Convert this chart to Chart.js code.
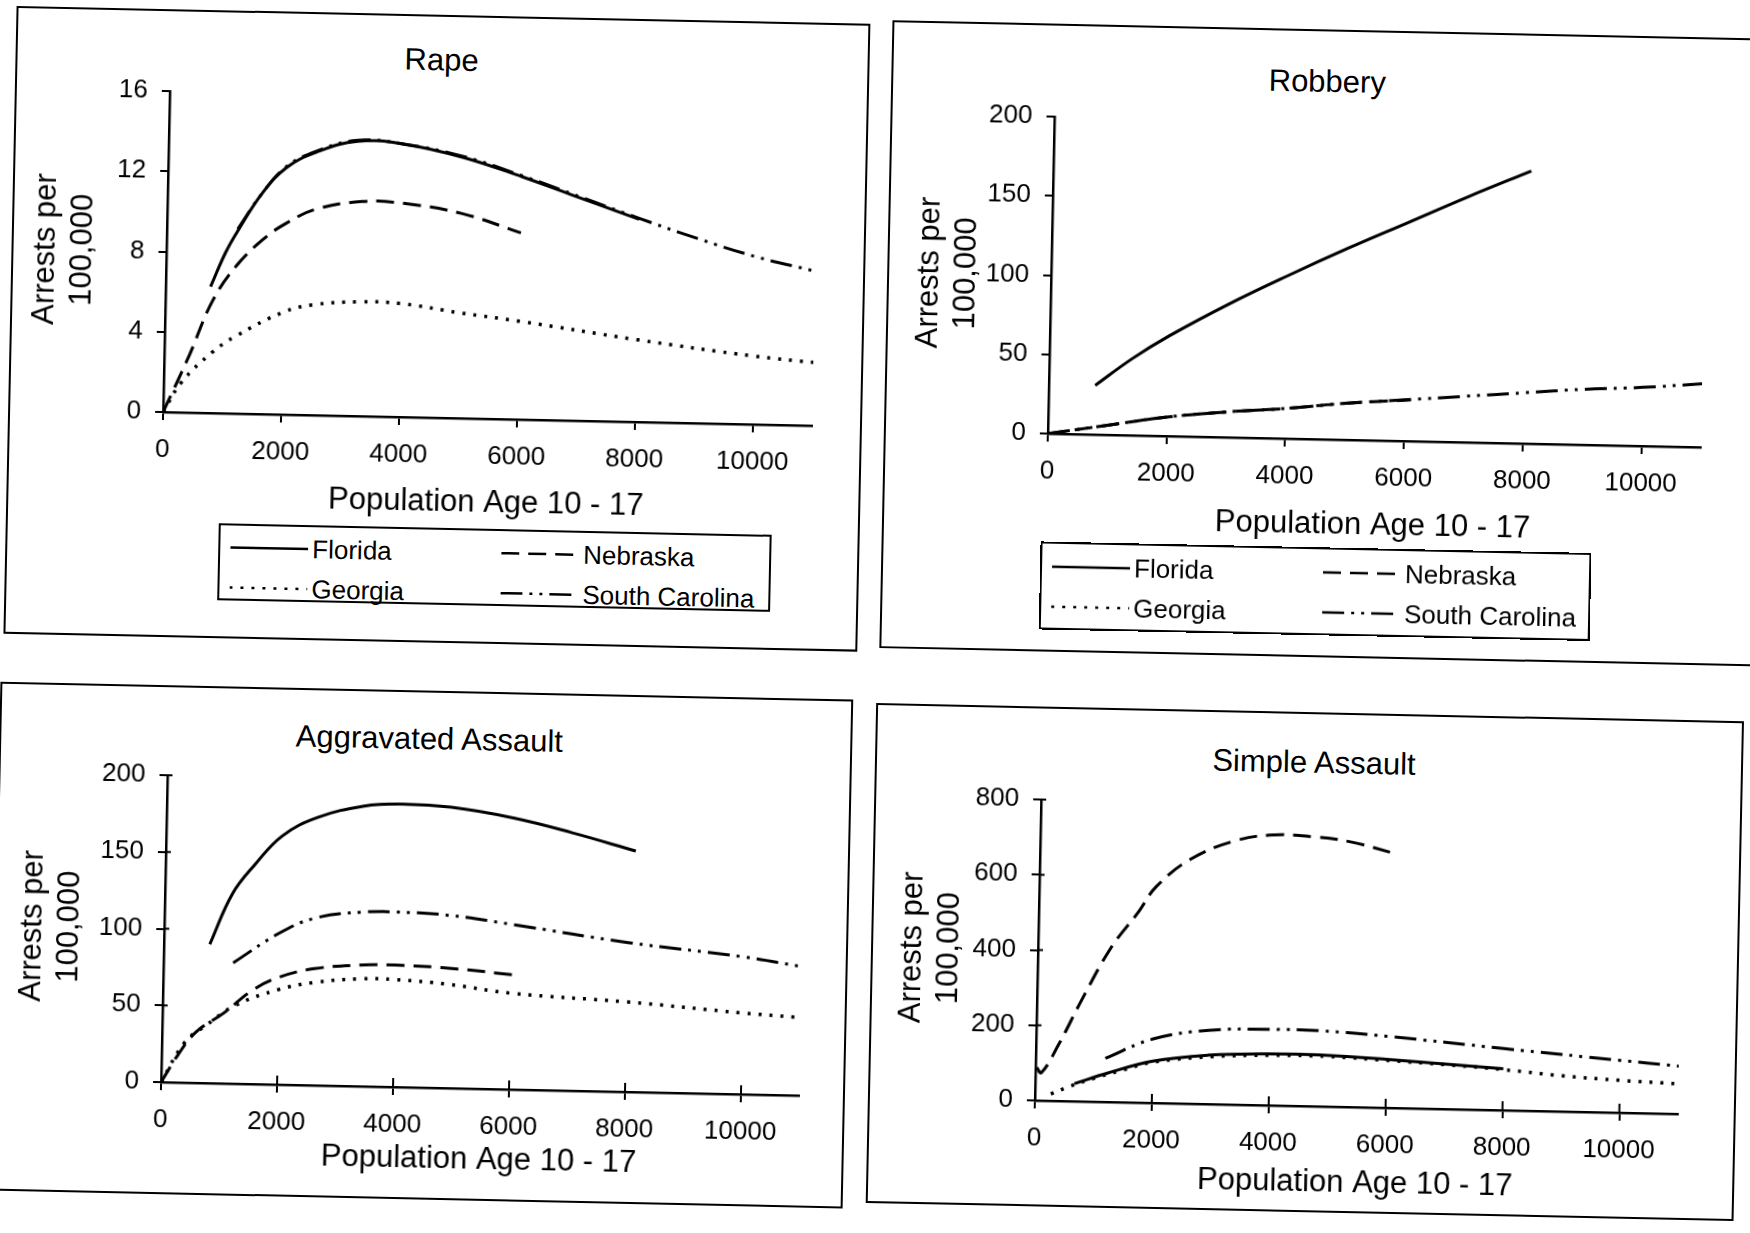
<!DOCTYPE html>
<html><head><meta charset="utf-8">
<script src="https://cdn.jsdelivr.net/npm/chart.js@4.4.1/dist/chart.umd.min.js"></script>
<style>
html,body{margin:0;padding:0;background:#fff;}
body{width:1750px;height:1233px;overflow:hidden;font-family:'Liberation Sans',Arial,sans-serif;color:#000;position:relative;}
#page{position:absolute;left:0;top:0;width:1750px;height:1233px;transform:rotate(1.2deg);transform-origin:875px 616px;}
.panel{position:absolute;border:2.5px solid #000;box-sizing:border-box;}
.ptitle{position:absolute;font-size:31px;transform:translate(-50%,-50%);white-space:nowrap;line-height:1;}
canvas{position:absolute;}
.legend{position:absolute;border:2.5px solid #000;box-sizing:border-box;background:#fff;}
.legend .item{position:absolute;font-size:26px;white-space:nowrap;display:flex;align-items:center;transform:translateY(-50%);line-height:1;}
.legend .item svg{margin-right:4px;}
</style></head><body><div id="page"></div>
<script>
// ---------- DATA ----------
const seriesNames = ['Florida', 'Nebraska', 'Georgia', 'South Carolina'];
const panelTitles = ['Rape', 'Robbery', 'Aggravated Assault', 'Simple Assault'];
const xTickValues = [0, 2000, 4000, 6000, 8000, 10000];
const xMax = 11000;
const rapeYTicks = [0, 4, 8, 12, 16];
const robberyYTicks = [0, 50, 100, 150, 200];
const aggYTicks = [0, 50, 100, 150, 200];
const simpleYTicks = [0, 200, 400, 600, 800];
const xAxisTitle = 'Population Age 10 - 17';
const yAxisTitle = ['Arrests per', '100,000'];

// Rape
const rapeFloridaX = [760, 1000, 1200, 1600, 2000, 2500, 3200, 4000, 5000, 6000, 7000, 8000];
const rapeFloridaY = [6.3, 8.0, 9.1, 11.0, 12.3, 13.1, 13.7, 13.6, 13.0, 12.1, 11.1, 10.1];
const rapeNebraskaX = [0, 150, 430, 800, 1200, 1650, 2000, 2500, 3300, 4000, 5000, 6000];
const rapeNebraskaY = [0, 1.0, 2.9, 5.6, 7.4, 8.75, 9.5, 10.25, 10.7, 10.65, 10.2, 9.3];
const rapeGeorgiaX = [0, 300, 800, 1200, 2000, 2500, 3300, 4000, 5000, 6000, 8000, 10000, 11000];
const rapeGeorgiaY = [0, 1.5, 3.0, 3.85, 5.1, 5.5, 5.7, 5.65, 5.25, 4.9, 4.1, 3.4, 3.15];
const rapeSCX = [1200, 1600, 2000, 2500, 3200, 4000, 5000, 6000, 7000, 8000, 9000, 10000, 11000];
const rapeSCY = [9.2, 11.0, 12.35, 13.15, 13.75, 13.6, 13.05, 12.15, 11.15, 10.15, 9.2, 8.35, 7.7];

// Robbery
const robFloridaX = [780, 1400, 2000, 3000, 4000, 5000, 6000, 7000, 8050];
const robFloridaY = [31, 48.5, 63, 84, 103, 121, 138, 155, 172];
const robNebraskaX = [0, 1000, 2000, 3000, 4000, 5000, 6100];
const robNebraskaY = [0, 6, 12, 16, 19, 23, 26];
const robGeorgiaX = [];
const robGeorgiaY = [];
const robSCX = [0, 1000, 2000, 3000, 4000, 5000, 6000, 7000, 8000, 9000, 10000, 11000];
const robSCY = [0, 6, 12, 16, 19, 23, 26, 29, 32, 35, 37, 40];

// Aggravated Assault
const aggFloridaX = [790, 1160, 1540, 2000, 2600, 3400, 4000, 4900, 6000, 7000, 8100];
const aggFloridaY = [90.5, 123.5, 143, 162, 174.5, 182.6, 184.4, 183, 176.7, 168, 157];
const aggNebraskaX = [0, 290, 580, 1060, 1540, 2000, 2600, 3400, 4000, 4900, 6100];
const aggNebraskaY = [0, 18.5, 33, 46, 61, 70, 76, 79, 79.4, 78.2, 74.5];
const aggGeorgiaX = [0, 390, 770, 1250, 2000, 2600, 3400, 4000, 4900, 6000, 8000, 10000, 10900];
const aggGeorgiaY = [0, 26, 38, 51, 62, 67, 70, 70, 67.7, 62.7, 58.6, 53, 51];
const aggSCX = [1200, 2000, 2600, 3400, 4000, 4900, 6000, 8000, 10000, 11000];
const aggSCY = [78.7, 99, 109, 113.5, 114, 112.6, 107.5, 97.3, 89.5, 84];

// Simple Assault
const simFloridaX = [670, 1240, 2000, 2950, 4000, 4860, 6000, 8000];
const simFloridaY = [47, 77, 111, 130, 137, 137, 129, 110];
const simNebraskaX = [20, 100, 380, 760, 1240, 1710, 2000, 2570, 3330, 4000, 4670, 5330, 6100];
const simNebraskaY = [88, 74, 148, 268, 408, 508, 575, 649, 701, 719, 716, 704, 675];
const simGeorgiaX = [270, 600, 1000, 1500, 2000, 3000, 4000, 5000, 6000, 7000, 8000, 9000, 10000, 11000];
const simGeorgiaY = [18, 40, 62, 86, 108, 126, 133, 133, 126, 118, 108, 95, 86, 80];
const simSCX = [1190, 2000, 2950, 4000, 4860, 6000, 8000, 10000, 11000];
const simSCY = [116, 170, 196, 202, 201, 190, 164, 139, 127];

// ---------- STYLE / LAYOUT ----------
const dashStyles = { 'Florida': [], 'Nebraska': [18, 9], 'Georgia': [3, 8], 'South Carolina': [22, 7, 3, 7, 3, 7] };
const lineWidths = { 'Florida': 3, 'Nebraska': 3, 'Georgia': 3.5, 'South Carolina': 3 };
const FONT = "'Liberation Sans', Arial, sans-serif";
Chart.defaults.font.family = FONT;
Chart.defaults.color = '#000';

const panels = [
  { title: panelTitles[0], titlePos: [430, 69], box: [4, 24, 858, 652],
    canvas: [6, 60, 850, 535], plot: [159, 106, 808, 427], xTitle: 511.5, yTitle: 38,
    yTicks: rapeYTicks, crossTicks: false,
    series: [[rapeFloridaX, rapeFloridaY], [rapeNebraskaX, rapeNebraskaY], [rapeGeorgiaX, rapeGeorgiaY], [rapeSCX, rapeSCY]],
    legend: { box: [217, 537, 770, 614], rows: [22, 62] } },
  { title: panelTitles[1], titlePos: [1316, 72], box: [880, 20, 1775, 648],
    canvas: [884, 60, 1745, 540], plot: [1044, 113, 1697, 430], xTitle: 515.5, yTitle: 922,
    yTicks: robberyYTicks, crossTicks: false,
    series: [[robFloridaX, robFloridaY], [robNebraskaX, robNebraskaY], [robGeorgiaX, robGeorgiaY], [robSCX, robSCY]],
    legend: { box: [1039, 538, 1590, 626], rows: [23, 63] } },
  { title: panelTitles[2], titlePos: [432, 747.5], box: [2, 700, 855, 1209],
    canvas: [4, 760, 850, 1195], plot: [171, 790, 809, 1097], xTitle: 1168.6, yTitle: 39,
    yTicks: aggYTicks, crossTicks: true,
    series: [[aggFloridaX, aggFloridaY], [aggNebraskaX, aggNebraskaY], [aggGeorgiaX, aggGeorgiaY], [aggSCX, aggSCY]],
    legend: null },
  { title: panelTitles[3], titlePos: [1317, 752.6], box: [878, 703, 1746, 1203],
    canvas: [884, 765, 1740, 1200], plot: [1045, 796, 1688, 1097], xTitle: 1173.8, yTitle: 919,
    yTicks: simpleYTicks, crossTicks: true,
    series: [[simFloridaX, simFloridaY], [simNebraskaX, simNebraskaY], [simGeorgiaX, simGeorgiaY], [simSCX, simSCY]],
    legend: null }
];

const page = document.getElementById('page');
const TITLE_SIZE = 31, TICK_SIZE = 26, TITLE_LH = TITLE_SIZE * 1.2;

// draws the inner half of tick marks so they cross the axis line
const crossTickPlugin = {
  id: 'crossTicks',
  afterDraw(chart, args, opts) {
    if (!opts || !opts.enabled) return;
    const ctx = chart.ctx, x = chart.scales.x, y = chart.scales.y;
    ctx.save();
    ctx.strokeStyle = '#000'; ctx.lineWidth = 2;
    ctx.beginPath();
    x.ticks.forEach(t => { const px = x.getPixelForValue(t.value); if (t.value > 0) { ctx.moveTo(px, x.top); ctx.lineTo(px, x.top - 9); } });
    y.ticks.forEach(t => { const py = y.getPixelForValue(t.value); if (t.value > 0) { ctx.moveTo(y.right, py); ctx.lineTo(y.right + 5, py); } });
    ctx.stroke();
    ctx.restore();
  }
};

function el(tag, cls, style) {
  const e = document.createElement(tag);
  if (cls) e.className = cls;
  Object.assign(e.style, style || {});
  page.appendChild(e);
  return e;
}

function sampleSvg(name) {
  const ns = 'http://www.w3.org/2000/svg';
  const svg = document.createElementNS(ns, 'svg');
  svg.setAttribute('width', '78'); svg.setAttribute('height', '8');
  const ln = document.createElementNS(ns, 'line');
  ln.setAttribute('x1', '0'); ln.setAttribute('y1', '4');
  ln.setAttribute('x2', '78'); ln.setAttribute('y2', '4');
  ln.setAttribute('stroke', '#000'); ln.setAttribute('stroke-width', '2.5');
  if (dashStyles[name].length) ln.setAttribute('stroke-dasharray', dashStyles[name].join(' '));
  svg.appendChild(ln);
  return svg;
}

panels.forEach(p => {
  el('div', 'panel', { left: p.box[0] + 'px', top: p.box[1] + 'px', width: (p.box[2] - p.box[0]) + 'px', height: (p.box[3] - p.box[1]) + 'px' });
  const t = el('div', 'ptitle', { left: p.titlePos[0] + 'px', top: p.titlePos[1] + 'px' });
  t.textContent = p.title;

  const [cl, ct, cr, cb] = p.canvas;
  const [pl, pt, pr, pb] = p.plot;
  const cv = el('canvas', null, { left: cl + 'px', top: ct + 'px' });
  cv.width = cr - cl; cv.height = cb - ct;

  const datasets = seriesNames.map((name, i) => ({
    label: name,
    data: p.series[i][0].map((x, k) => ({ x: x, y: p.series[i][1][k] })),
    borderColor: '#000',
    borderWidth: lineWidths[name],
    borderDash: dashStyles[name],
    borderCapStyle: 'butt',
    fill: false,
    pointRadius: 0,
    tension: 0.4
  }));

  const yMax = p.yTicks[p.yTicks.length - 1];
  new Chart(cv.getContext('2d'), {
    type: 'line',
    data: { datasets },
    plugins: [crossTickPlugin],
    options: {
      responsive: false, animation: false, devicePixelRatio: 1,
      layout: { padding: { left: 0, top: pt - ct, right: cr - pr, bottom: cb - (p.xTitle + TITLE_LH / 2) } },
      plugins: { legend: { display: false }, tooltip: { enabled: false }, title: { display: false }, crossTicks: { enabled: p.crossTicks } },
      scales: {
        x: {
          type: 'linear', min: 0, max: xMax,
          afterBuildTicks: s => { s.ticks = xTickValues.map(v => ({ value: v })); },
          afterFit: s => { s.height = (p.xTitle + TITLE_LH / 2) - pb; },
          ticks: { font: { size: TICK_SIZE }, color: '#000', padding: 14, maxRotation: 0, autoSkip: false, callback: v => String(v) },
          grid: { drawOnChartArea: false, drawTicks: true, tickLength: 8, color: '#000', lineWidth: 2 },
          border: { color: '#000', width: 2.5 },
          title: { display: true, text: xAxisTitle, font: { size: TITLE_SIZE }, color: '#000', padding: 0 }
        },
        y: {
          min: 0, max: yMax,
          afterBuildTicks: s => { s.ticks = p.yTicks.map(v => ({ value: v })); },
          afterFit: s => { s.width = pl - cl; },
          ticks: { font: { size: TICK_SIZE }, color: '#000', padding: 14, autoSkip: false, callback: v => String(v) },
          grid: { drawOnChartArea: false, drawTicks: true, tickLength: 8, color: '#000', lineWidth: 2 },
          border: { color: '#000', width: 2.5 },
          title: { display: true, text: yAxisTitle, font: { size: TITLE_SIZE }, color: '#000',
                   padding: { top: p.yTitle - cl - TITLE_LH / 2, bottom: 0 } }
        }
      }
    }
  });

  if (p.legend) {
    const b = p.legend.box;
    const lg = el('div', 'legend', { left: b[0] + 'px', top: b[1] + 'px', width: (b[2] - b[0]) + 'px', height: (b[3] - b[1]) + 'px' });
    const cols = [10, 281];
    seriesNames.forEach((name, i) => {
      const it = document.createElement('div');
      it.className = 'item';
      it.style.left = cols[i % 2] + 'px';
      it.style.top = p.legend.rows[Math.floor(i / 2)] + 'px';
      it.appendChild(sampleSvg(name));
      const sp = document.createElement('span');
      sp.textContent = name;
      it.appendChild(sp);
      lg.appendChild(it);
    });
  }
});
</script></body></html>
